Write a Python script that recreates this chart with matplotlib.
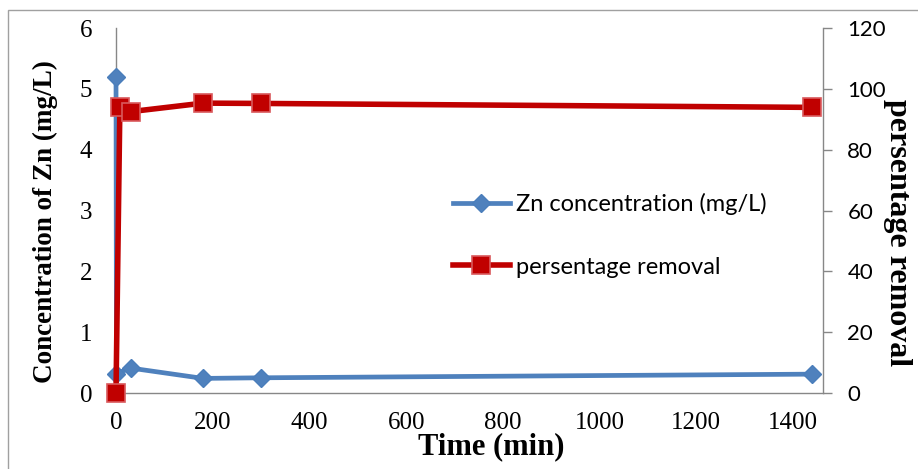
import matplotlib
matplotlib.use("Agg")
import matplotlib.pyplot as plt
from matplotlib.patches import Rectangle

# data
time_zn = [0, 1, 30, 180, 300, 1440]
zn_conc = [5.2, 0.32, 0.41, 0.24, 0.25, 0.31]
time_rem = [0, 8, 30, 180, 300, 1440]
removal = [0, 94.1, 92.5, 95.3, 95.2, 93.9]

x_ticks = [0, 200, 400, 600, 800, 1000, 1200, 1400]
left_ticks = [0, 1, 2, 3, 4, 5, 6]
right_ticks = [0, 20, 40, 60, 80, 100, 120]

W, H = 918, 469
fig = plt.figure(figsize=(W / 100, H / 100), dpi=100)
ax = fig.add_axes([116 / W, 1 - 393 / H, (823 - 116) / W, (393 - 28) / H])
ax2 = ax.twinx()

axis_grey = '#878787'
serif = 'Liberation Serif'
sans = 'Lato'

# chart border (only left/top visible in the crop)
fig.patches.append(Rectangle((8 / W, -0.1), 1.2, 1.1 - 10 / H, transform=fig.transFigure,
                             fill=False, edgecolor='#A0A0A0', linewidth=1.0))

l1, = ax.plot(time_zn, zn_conc, color='#4F81BD', lw=3.4, marker='D', markersize=9.5,
              markerfacecolor='#4F81BD', markeredgecolor='#4A7EBB', markeredgewidth=1,
              clip_on=False, label='Zn concentration (mg/L)', zorder=3)
l2, = ax2.plot(time_rem, removal, color='#C00000', lw=4, marker='s', markersize=12.5,
               markerfacecolor='#C00000', markeredgecolor='#D9595C', markeredgewidth=1.2,
               clip_on=False, label='persentage removal', zorder=3)

ax.set_xlim(0, 1462)
ax.set_ylim(0, 6)
ax2.set_ylim(0, 120)
ax.set_xticks(x_ticks)
ax.set_yticks(left_ticks)
ax2.set_yticks(right_ticks)

for a in (ax, ax2):
    for s in a.spines.values():
        s.set_visible(False)
ax.spines['left'].set_visible(True)
ax.spines['bottom'].set_visible(True)
ax2.spines['right'].set_visible(True)
for s in (ax.spines['left'], ax.spines['bottom'], ax2.spines['right']):
    s.set_color(axis_grey)
    s.set_linewidth(1.0)

ax.tick_params(axis='x', length=0, pad=14, labelsize=18, labelfontfamily=serif)
ax.tick_params(axis='y', length=0, pad=17, labelsize=18, labelfontfamily=serif)
ax2.tick_params(axis='y', length=6.5, width=1.0, color=axis_grey, pad=11,
                labelsize=16, labelfontfamily=sans)

ax.set_xlabel('Time (min)', fontfamily=serif, fontweight='bold', fontsize=22, va='center')
ax.xaxis.set_label_coords((491 - 116) / 707, (393 - 447) / 365)
ax.set_ylabel('Concentration of Zn (mg/L)', fontfamily=serif, fontweight='bold',
              fontsize=19.5, va='center')
ax.yaxis.set_label_coords((45 - 116) / 707, (393 - 222) / 365)
ax2.set_ylabel('persentage removal', fontfamily=serif, fontweight='bold', fontsize=23,
               rotation=-90, va='center')
ax2.yaxis.set_label_coords((897 - 116) / 707, (393 - 233) / 365)

leg = ax2.legend(handles=[l1, l2], loc='center left', frameon=False,
                 bbox_to_anchor=(453 / W, 1 - 235.5 / H), bbox_transform=fig.transFigure,
                 borderaxespad=0, borderpad=0, handlelength=2.4, handletextpad=0.25,
                 labelspacing=1.75, prop={'family': sans, 'size': 17})

fig.savefig('out.png', dpi=100)
